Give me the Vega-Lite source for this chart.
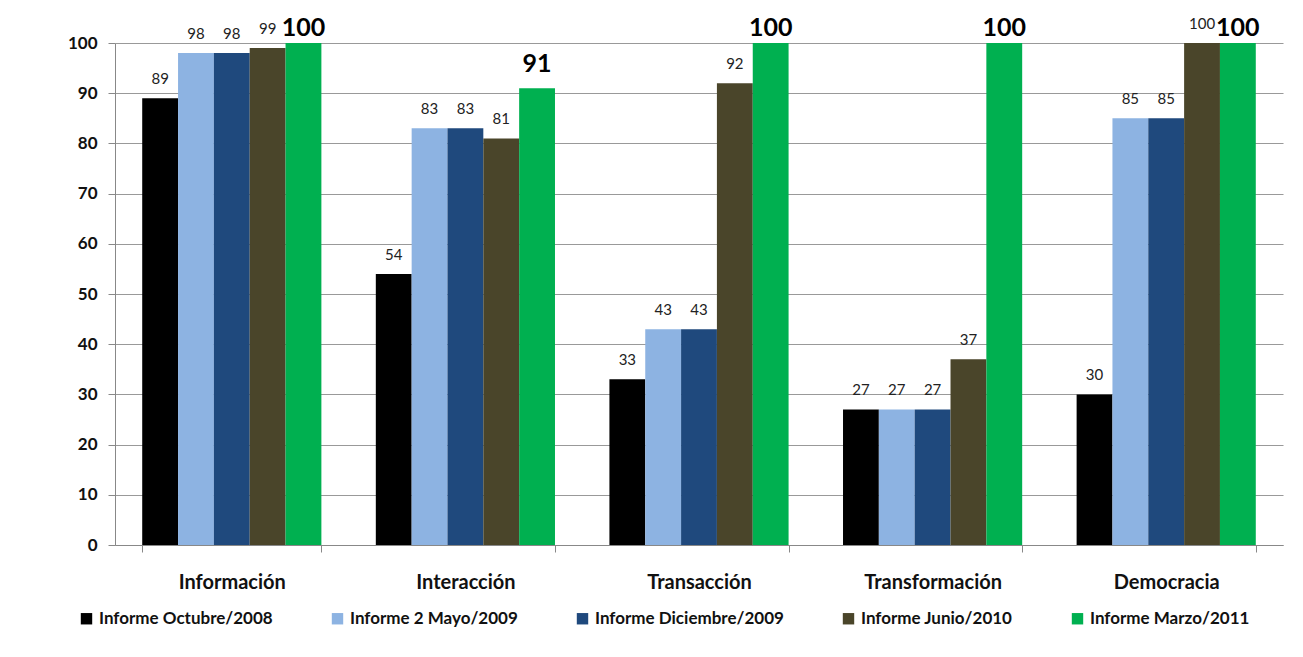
{
  "$schema": "https://vega.github.io/schema/vega-lite/v6.json",
  "width": 1168,
  "height": 502,
  "autosize": {"type": "none"},
  "padding": {"left": 115, "top": 43, "right": 20, "bottom": 112},
  "background": "white",
  "config": {
    "font": "Lato",
    "view": {"stroke": null}
  },
  "data": {
    "values": [
      {"cat": "Información", "serie": "Informe Octubre/2008", "value": 89},
      {"cat": "Información", "serie": "Informe 2 Mayo/2009", "value": 98},
      {"cat": "Información", "serie": "Informe Diciembre/2009", "value": 98},
      {"cat": "Información", "serie": "Informe Junio/2010", "value": 99},
      {"cat": "Información", "serie": "Informe Marzo/2011", "value": 100},
      {"cat": "Interacción", "serie": "Informe Octubre/2008", "value": 54},
      {"cat": "Interacción", "serie": "Informe 2 Mayo/2009", "value": 83},
      {"cat": "Interacción", "serie": "Informe Diciembre/2009", "value": 83},
      {"cat": "Interacción", "serie": "Informe Junio/2010", "value": 81},
      {"cat": "Interacción", "serie": "Informe Marzo/2011", "value": 91},
      {"cat": "Transacción", "serie": "Informe Octubre/2008", "value": 33},
      {"cat": "Transacción", "serie": "Informe 2 Mayo/2009", "value": 43},
      {"cat": "Transacción", "serie": "Informe Diciembre/2009", "value": 43},
      {"cat": "Transacción", "serie": "Informe Junio/2010", "value": 92},
      {"cat": "Transacción", "serie": "Informe Marzo/2011", "value": 100},
      {"cat": "Transformación", "serie": "Informe Octubre/2008", "value": 27},
      {"cat": "Transformación", "serie": "Informe 2 Mayo/2009", "value": 27},
      {"cat": "Transformación", "serie": "Informe Diciembre/2009", "value": 27},
      {"cat": "Transformación", "serie": "Informe Junio/2010", "value": 37},
      {"cat": "Transformación", "serie": "Informe Marzo/2011", "value": 100},
      {"cat": "Democracia", "serie": "Informe Octubre/2008", "value": 30},
      {"cat": "Democracia", "serie": "Informe 2 Mayo/2009", "value": 85},
      {"cat": "Democracia", "serie": "Informe Diciembre/2009", "value": 85},
      {"cat": "Democracia", "serie": "Informe Junio/2010", "value": 100},
      {"cat": "Democracia", "serie": "Informe Marzo/2011", "value": 100}
    ]
  },
  "encoding": {
    "x": {
      "field": "cat",
      "type": "nominal",
      "sort": ["Información", "Interacción", "Transacción", "Transformación", "Democracia"],
      "scale": {"paddingInner": 0.233, "paddingOuter": 0.1165},
      "axis": {
        "title": null,
        "labelAngle": 0,
        "labelFont": "Lato",
        "labelFontWeight": "bold",
        "labelFontSize": 20,
        "labelColor": "#111111",
        "labelPadding": 20,
        "tickBand": "extent",
        "tickSize": 7,
        "tickColor": "#888888",
        "domainColor": "#888888",
        "grid": false
      }
    },
    "xOffset": {
      "field": "serie",
      "type": "nominal",
      "sort": ["Informe Octubre/2008", "Informe 2 Mayo/2009", "Informe Diciembre/2009", "Informe Junio/2010", "Informe Marzo/2011"],
      "scale": {"paddingInner": 0, "paddingOuter": 0}
    },
    "y": {
      "field": "value",
      "type": "quantitative",
      "scale": {"domain": [0, 100], "nice": false},
      "axis": {
        "title": null,
        "values": [0, 10, 20, 30, 40, 50, 60, 70, 80, 90, 100],
        "labelFont": "Lato",
        "labelFontWeight": "bold",
        "labelFontSize": 17,
        "labelColor": "#111111",
        "labelPadding": 11,
        "tickSize": 7,
        "tickColor": "#888888",
        "domainColor": "#888888",
        "gridColor": "#999999",
        "gridWidth": 1
      }
    }
  },
  "layer": [
    {
      "mark": {"type": "bar"},
      "encoding": {
        "color": {
          "field": "serie",
          "type": "nominal",
          "scale": {
            "domain": ["Informe Octubre/2008", "Informe 2 Mayo/2009", "Informe Diciembre/2009", "Informe Junio/2010", "Informe Marzo/2011"],
            "range": ["#000000", "#8DB3E2", "#1F497D", "#4A452A", "#00B050"]
          },
          "legend": {
            "title": null,
            "orient": "none",
            "direction": "horizontal",
            "legendX": -37,
            "legendY": 567,
            "symbolType": "square",
            "symbolSize": 130,
            "symbolStrokeWidth": 0,
            "labelFont": "Lato",
            "labelFontWeight": "bold",
            "labelFontSize": 17,
            "labelLimit": 400,
            "labelColor": "#111111",
            "labelOffset": 4,
            "columnPadding": 56
          }
        }
      }
    },
    {
      "transform": [{"filter": "datum.serie !== 'Informe Marzo/2011'"}],
      "mark": {"type": "text", "baseline": "alphabetic", "dy": -14, "fontSize": 15, "font": "Lato", "color": "#222222"},
      "encoding": {"text": {"field": "value", "type": "quantitative"}}
    },
    {
      "transform": [{"filter": "datum.serie === 'Informe Marzo/2011' && datum.value < 100"}],
      "mark": {"type": "text", "baseline": "alphabetic", "dy": -16, "fontSize": 25, "fontWeight": "bold", "font": "Lato", "color": "#000000"},
      "encoding": {"text": {"field": "value", "type": "quantitative"}}
    },
    {
      "transform": [{"filter": "datum.serie === 'Informe Marzo/2011' && datum.value >= 100"}],
      "mark": {"type": "text", "baseline": "alphabetic", "dy": -7, "fontSize": 25, "fontWeight": "bold", "font": "Lato", "color": "#000000"},
      "encoding": {"text": {"field": "value", "type": "quantitative"}}
    }
  ]
}
